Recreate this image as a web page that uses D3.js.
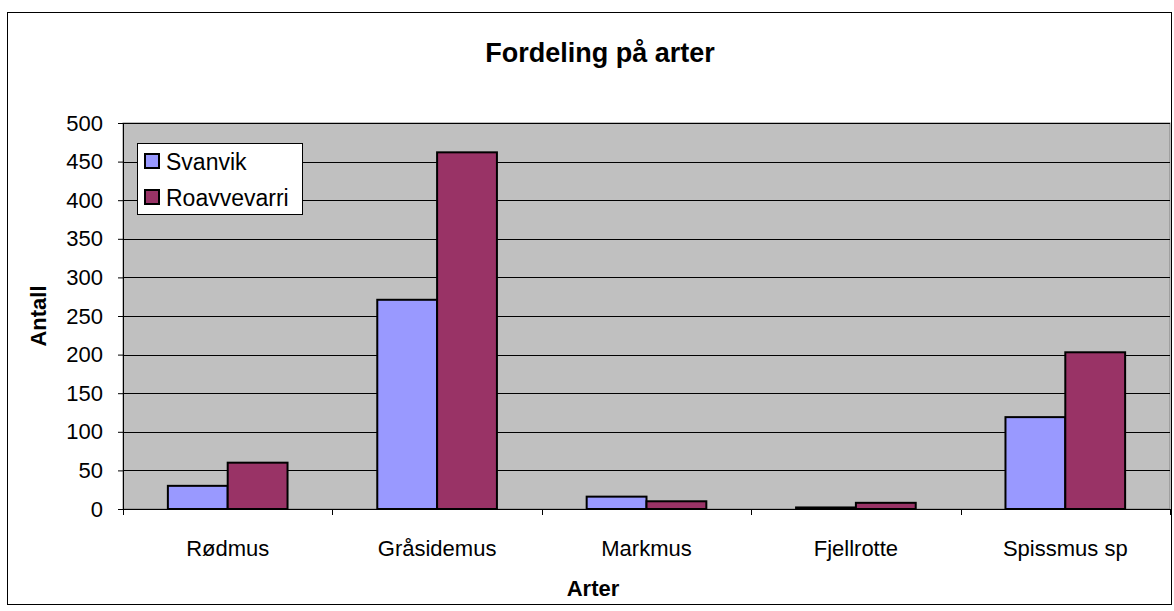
<!DOCTYPE html>
<html>
<head>
<meta charset="utf-8">
<script src="https://cdn.jsdelivr.net/npm/d3@7"></script>
<style>
body{margin:0;background:#fff;}
svg{display:block;font-family:"Liberation Sans",Arial,sans-serif;}
</style>
</head>
<body>
<script>
var width = 1174;
var height = 611;

var categories = ['Rødmus','Gråsidemus','Markmus','Fjellrotte','Spissmus sp'];
var seriesNames = ['Svanvik','Roavvevarri'];
var svanvik = [30, 271, 16, 2, 119];
var roavvevarri = [60, 462, 10, 8, 203];
var yTicks = [0,50,100,150,200,250,300,350,400,450,500];
var colors = ['#9999ff','#993366'];

var plot = {left:123, top:123, right:1170, bottom:509};

var svg = d3.select('body').append('svg')
	.attr('width',width)
	.attr('height',height);

// outer frame
svg.append('rect')
	.attr('x',7.5).attr('y',12.5)
	.attr('width',1164).attr('height',592)
	.attr('fill','#fff').attr('stroke','#000').attr('stroke-width',1);

var x0 = d3.scaleBand().domain(categories).range([plot.left,plot.right]).paddingInner(0).paddingOuter(0);
var x1 = d3.scaleBand().domain(seriesNames).range([0,x0.bandwidth()*2/3.5]);
var y = d3.scaleLinear().domain([0,500]).range([plot.bottom,plot.top]);

// plot background
svg.append('rect')
	.attr('x',plot.left).attr('y',plot.top)
	.attr('width',plot.right-plot.left).attr('height',plot.bottom-plot.top)
	.attr('fill','#c0c0c0').attr('stroke','#808080');

// gridlines
svg.append('g').selectAll('line')
	.data(yTicks.slice(1))
	.enter().append('line')
	.attr('x1',plot.left).attr('x2',plot.right)
	.attr('y1',d=>Math.round(y(d))+0.5).attr('y2',d=>Math.round(y(d))+0.5)
	.attr('stroke','#000').attr('stroke-width',1);

// bars
var groups = svg.append('g').selectAll('g')
	.data(categories)
	.enter().append('g')
	.attr('transform',(d)=>'translate('+(x0(d)+(x0.bandwidth()-x1.range()[1])/2)+',0)');
groups.selectAll('rect')
	.data((d,i)=>[svanvik[i],roavvevarri[i]])
	.enter().append('rect')
	.attr('x',(d,i)=>x1(seriesNames[i]))
	.attr('y',d=>y(d))
	.attr('width',x1.bandwidth())
	.attr('height',d=>y(0)-y(d))
	.attr('fill',(d,i)=>colors[i])
	.attr('stroke','#000').attr('stroke-width',2);

// y axis
svg.append('g')
	.attr('transform','translate('+plot.left+',0)')
	.call(d3.axisLeft(y).tickValues(yTicks).tickSize(5).tickPadding(15))
	.call(g=>{
		g.selectAll('text').attr('font-size',22).attr('fill','#000').attr('font-family','"Liberation Sans",Arial,sans-serif');
		g.selectAll('line,path').attr('stroke','#000');
	});

// x axis
var xAxis = svg.append('g')
	.attr('transform','translate(0,'+plot.bottom+')');
xAxis.append('line')
	.attr('x1',plot.left).attr('x2',plot.right)
	.attr('y1',0.5).attr('y2',0.5).attr('stroke','#000');
xAxis.selectAll('line.tick')
	.data(categories.concat(['end']))
	.enter().append('line')
	.attr('class','tick')
	.attr('x1',(d,i)=>Math.round(plot.left+i*x0.bandwidth())+0.5)
	.attr('x2',(d,i)=>Math.round(plot.left+i*x0.bandwidth())+0.5)
	.attr('y1',0).attr('y2',6).attr('stroke','#000');
xAxis.selectAll('text')
	.data(categories)
	.enter().append('text')
	.attr('x',d=>x0(d)+x0.bandwidth()/2)
	.attr('y',47)
	.attr('text-anchor','middle')
	.attr('font-size',22)
	.text(d=>d);

// titles
svg.append('text')
	.attr('x',600).attr('y',62)
	.attr('text-anchor','middle')
	.attr('font-size',27).attr('font-weight','bold')
	.text('Fordeling på arter');
svg.append('text')
	.attr('x',593).attr('y',596)
	.attr('text-anchor','middle')
	.attr('font-size',22).attr('font-weight','bold')
	.text('Arter');
svg.append('text')
	.attr('transform','translate(46,'+((plot.top+plot.bottom)/2)+') rotate(-90)')
	.attr('text-anchor','middle')
	.attr('font-size',22).attr('font-weight','bold')
	.text('Antall');

// legend
var legend = svg.append('g').attr('transform','translate(137,143)');
legend.append('rect')
	.attr('x',0.5).attr('y',0.5)
	.attr('width',165).attr('height',71)
	.attr('fill','#fff').attr('stroke','#000');
var items = legend.selectAll('g.item')
	.data(seriesNames)
	.enter().append('g')
	.attr('class','item')
	.attr('transform',(d,i)=>'translate(0,'+(i*36)+')');
items.append('rect')
	.attr('x',8).attr('y',11)
	.attr('width',14).attr('height',14)
	.attr('fill',(d,i)=>colors[i])
	.attr('stroke','#000').attr('stroke-width',2);
items.append('text')
	.attr('x',29).attr('y',27)
	.attr('font-size',23)
	.text(d=>d);
</script>
</body>
</html>
